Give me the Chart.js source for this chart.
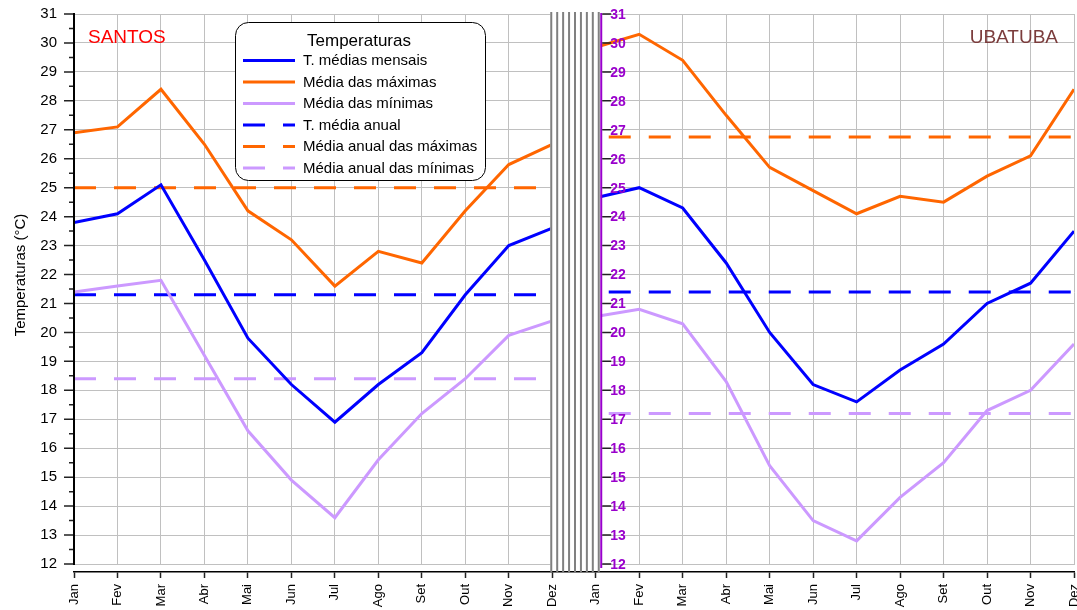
<!DOCTYPE html>
<html>
<head>
<meta charset="utf-8">
<script src="https://cdn.jsdelivr.net/npm/chart.js@4.4.1/dist/chart.umd.min.js"></script>
<style>
  html, body { margin: 0; padding: 0; background: #fff; overflow: hidden; }
  canvas { display: block; }
</style>
</head>
<body>
<canvas id="chart" width="1077" height="610"></canvas>
<script>
// Months, repeated for the two stations shown side by side
const meses = ['Jan', 'Fev', 'Mar', 'Abr', 'Mai', 'Jun', 'Jul', 'Ago', 'Set', 'Out', 'Nov', 'Dez'];
const xTickLabels = meses.concat(meses);
const yTickValues = [12, 13, 14, 15, 16, 17, 18, 19, 20, 21, 22, 23, 24, 25, 26, 27, 28, 29, 30, 31];

// Santos (°C)
const santosMedia = [23.8, 24.1, 25.1, 22.5, 19.8, 18.2, 16.9, 18.2, 19.3, 21.3, 23.0, 23.6];
const santosMax   = [26.9, 27.1, 28.4, 26.5, 24.2, 23.2, 21.6, 22.8, 22.4, 24.2, 25.8, 26.5];
const santosMin   = [21.4, 21.6, 21.8, 19.2, 16.6, 14.9, 13.6, 15.6, 17.2, 18.4, 19.9, 20.4];
const santosAnual = [21.3, 25.0, 18.4];   // média, máximas, mínimas

// Ubatuba (°C)
const ubatubaMedia = [24.65, 25.0, 24.3, 22.4, 20.0, 18.2, 17.6, 18.7, 19.6, 21.0, 21.7, 23.5];
const ubatubaMax   = [29.85, 30.3, 29.4, 27.5, 25.7, 24.9, 24.1, 24.7, 24.5, 25.4, 26.1, 28.4];
const ubatubaMin   = [20.55, 20.8, 20.3, 18.3, 15.4, 13.5, 12.8, 14.3, 15.5, 17.3, 18.0, 19.6];
const ubatubaAnual = [21.4, 26.75, 17.2];

const serieLabels = ['T. médias mensais', 'Média das máximas', 'Média das mínimas',
                     'T. média anual', 'Média anual das máximas', 'Média anual das mínimas'];
const legendTitle = 'Temperaturas';
const stationNames = ['SANTOS', 'UBATUBA'];
const yTitle = 'Temperaturas (°C)';

const AZUL = '#0000ff', LARANJA = '#ff6600', LILAS = '#cc99ff';
const ROXO = '#9900cc';
const serieColors = [AZUL, LARANJA, LILAS, AZUL, LARANJA, LILAS];
const DASH = [22, 18];
const FONT = "'Liberation Sans', Arial, sans-serif";

Chart.defaults.font.family = FONT;
Chart.defaults.color = '#000';

// x position: 0..11 for the first station, 12..23 for the second
const pts = (arr, start) => arr.map((v, i) => ({ x: start + i, y: v }));
const flat = (v, start) => [{ x: start, y: v }, { x: start + 11, y: v }];

function solid(label, color, data) {
  return { label, data, borderColor: color, backgroundColor: color, borderWidth: 3,
           pointRadius: 0, tension: 0, fill: false };
}
function dashed(label, color, data, offset) {
  return { label, data, borderColor: color, backgroundColor: color, borderWidth: 3,
           borderDash: DASH, borderDashOffset: offset, pointRadius: 0, tension: 0, fill: false };
}

const datasets = [
  solid(serieLabels[0], AZUL, pts(santosMedia, 0)),
  solid(serieLabels[1], LARANJA, pts(santosMax, 0)),
  solid(serieLabels[2], LILAS, pts(santosMin, 0)),
  solid(serieLabels[0], AZUL, pts(ubatubaMedia, 12)),
  solid(serieLabels[1], LARANJA, pts(ubatubaMax, 12)),
  solid(serieLabels[2], LILAS, pts(ubatubaMin, 12)),
  dashed(serieLabels[3], AZUL, flat(santosAnual[0], 0), 0),
  dashed(serieLabels[4], LARANJA, flat(santosAnual[1], 0), 0),
  dashed(serieLabels[5], LILAS, flat(santosAnual[2], 0), 0),
  dashed(serieLabels[3], AZUL, flat(ubatubaAnual[0], 12), 27),
  dashed(serieLabels[4], LARANJA, flat(ubatubaAnual[1], 12), 27),
  dashed(serieLabels[5], LILAS, flat(ubatubaAnual[2], 12), 27)
];

// Axes drawn by hand: left value axis with minor ticks and its title, the hatched
// separator, the second station's purple value axis, station names and the legend.
const decor = {
  id: 'decor',
  beforeDatasetsDraw(chart) {
    const { ctx, chartArea: a, scales: { y } } = chart;
    const y12 = y.getPixelForValue(12);
    ctx.save();
    ctx.fillStyle = '#fff';
    ctx.fillRect(a.left - 1, y12 + 1, a.right - a.left + 3, a.bottom - y12 - 2);
    ctx.restore();
  },
  afterDatasetsDraw(chart) {
    const { ctx, chartArea: a, scales: { x, y } } = chart;
    const y12 = y.getPixelForValue(12), y31 = y.getPixelForValue(31);
    ctx.save();

    // left value axis
    ctx.strokeStyle = '#000';
    ctx.lineWidth = 2;
    ctx.beginPath();
    ctx.moveTo(a.left, y31 - 1);
    ctx.lineTo(a.left, y12 + 1);
    ctx.stroke();
    ctx.lineWidth = 1.5;
    ctx.strokeStyle = '#222';
    ctx.beginPath();
    for (let v = yTickValues[0]; v <= yTickValues[yTickValues.length - 1]; v += 0.5) {
      const py = y.getPixelForValue(v);
      const len = Number.isInteger(v) ? 10 : 5;
      ctx.moveTo(a.left - len, py);
      ctx.lineTo(a.left - 1, py);
    }
    ctx.stroke();

    // value axis title
    ctx.save();
    ctx.translate(21, 275);
    ctx.rotate(-Math.PI / 2);
    ctx.fillStyle = '#000';
    ctx.font = '15px ' + FONT;
    ctx.textAlign = 'center';
    ctx.textBaseline = 'middle';
    ctx.fillText(yTitle, 0, 0);
    ctx.restore();

    // hatched separator between the two stations
    const hl = x.getPixelForValue(11) - 1;
    const hr = x.getPixelForValue(12) + 3;
    ctx.fillStyle = '#fff';
    ctx.fillRect(hl - 1, y31 - 2, hr - hl + 3, a.bottom - y31 + 1);
    ctx.strokeStyle = '#808080';
    ctx.lineWidth = 2;
    ctx.beginPath();
    for (let i = 0; i < 9; i++) {
      const px = hl + (hr - hl) * i / 8;
      ctx.moveTo(px, y31 - 2);
      ctx.lineTo(px, a.bottom);
    }
    ctx.stroke();

    // purple value axis of the second station
    const rx = x.getPixelForValue(12) + 5.5;
    ctx.strokeStyle = ROXO;
    ctx.lineWidth = 2;
    ctx.beginPath();
    ctx.moveTo(rx, y31 - 1);
    ctx.lineTo(rx, y12 + 4);
    ctx.stroke();
    ctx.strokeStyle = '#222';
    ctx.lineWidth = 1.5;
    ctx.beginPath();
    yTickValues.forEach(v => {
      const py = y.getPixelForValue(v);
      ctx.moveTo(rx + 1, py);
      ctx.lineTo(rx + 10, py);
    });
    ctx.stroke();
    ctx.fillStyle = ROXO;
    ctx.font = 'bold 14px ' + FONT;
    ctx.textAlign = 'left';
    ctx.textBaseline = 'middle';
    yTickValues.forEach(v => {
      ctx.fillText(String(v), rx + 9, y.getPixelForValue(v) + 1);
    });

    // station names
    ctx.font = '19px ' + FONT;
    ctx.textBaseline = 'alphabetic';
    ctx.fillStyle = '#ff0000';
    ctx.textAlign = 'left';
    ctx.fillText(stationNames[0], 88, 43);
    ctx.fillStyle = '#7b3c3c';
    ctx.textAlign = 'right';
    ctx.fillText(stationNames[1], 1058, 43);

    // legend
    const L = 235, T = 22, W = 250, H = 158;
    ctx.beginPath();
    if (ctx.roundRect) ctx.roundRect(L + 0.5, T + 0.5, W, H, 13);
    else ctx.rect(L + 0.5, T + 0.5, W, H);
    ctx.fillStyle = '#fff';
    ctx.fill();
    ctx.strokeStyle = '#000';
    ctx.lineWidth = 1;
    ctx.stroke();
    ctx.fillStyle = '#000';
    ctx.textAlign = 'center';
    ctx.textBaseline = 'middle';
    ctx.font = '17px ' + FONT;
    ctx.fillText(legendTitle, 359, 41);
    ctx.font = '15px ' + FONT;
    ctx.textAlign = 'left';
    serieLabels.forEach((lab, i) => {
      const ry = 60.5 + i * 21.5;
      ctx.strokeStyle = serieColors[i];
      ctx.lineWidth = 3;
      ctx.setLineDash(i >= 3 ? DASH : []);
      ctx.beginPath();
      ctx.moveTo(243, ry);
      ctx.lineTo(295, ry);
      ctx.stroke();
      ctx.setLineDash([]);
      ctx.fillStyle = '#000';
      ctx.fillText(lab, 303, ry + 0.5);
    });

    ctx.restore();
  }
};

new Chart(document.getElementById('chart'), {
  type: 'line',
  data: { datasets },
  options: {
    responsive: false,
    animation: false,
    devicePixelRatio: 1,
    layout: { padding: { top: 14, right: 3, left: 0, bottom: 0 } },
    plugins: { legend: { display: false }, tooltip: { enabled: false } },
    scales: {
      x: {
        type: 'linear',
        min: 0,
        max: 23,
        afterBuildTicks: s => { s.ticks = xTickLabels.map((_, i) => ({ value: i })); },
        ticks: {
          autoSkip: false,
          minRotation: 90,
          maxRotation: 90,
          padding: 6,
          font: { size: 13 },
          color: '#000',
          callback: v => xTickLabels[v]
        },
        grid: { color: '#c0c0c0', lineWidth: 1, tickColor: '#222', tickLength: 6, tickWidth: 1.5 },
        border: { display: true, color: '#000', width: 1.5 },
        afterFit: s => { s.height = 38; s.paddingLeft = 0; s.paddingRight = 0; }
      },
      y: {
        min: 11.724,
        max: 31,
        afterBuildTicks: s => { s.ticks = yTickValues.map(v => ({ value: v })); },
        ticks: { padding: 17, font: { size: 15 }, color: '#000' },
        grid: { color: '#c0c0c0', lineWidth: 1, drawTicks: false },
        border: { display: false },
        afterFit: s => { s.width = 74; s.paddingTop = 0; s.paddingBottom = 0; }
      }
    }
  },
  plugins: [decor]
});
</script>
</body>
</html>
